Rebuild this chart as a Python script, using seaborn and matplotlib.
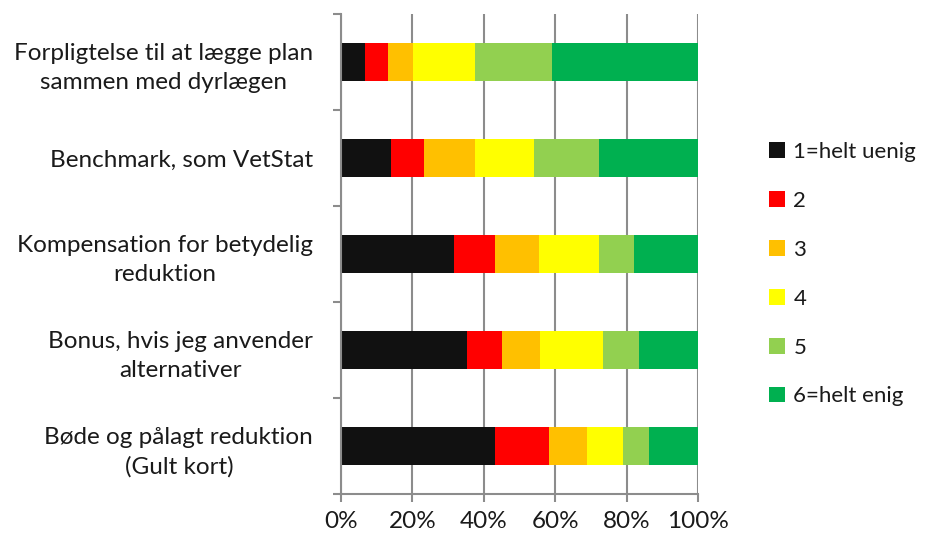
import matplotlib
matplotlib.use("Agg")
import matplotlib.pyplot as plt
from matplotlib.patches import Patch
from matplotlib.ticker import FixedLocator, PercentFormatter
import seaborn as sns
import pandas as pd
import numpy as np

# Survey statements (top to bottom) and share of answers per level, in percent
statements = [
    "Forpligtelse til at lægge plan\nsammen med dyrlægen",
    "Benchmark, som VetStat",
    "Kompensation for betydelig\nreduktion",
    "Bonus, hvis jeg anvender\nalternativer",
    "Bøde og pålagt reduktion\n(Gult kort)",
]
levels = ["1=helt uenig", "2", "3", "4", "5", "6=helt enig"]
level_1 = [6.6, 14.0, 31.7, 35.2, 43.2]
level_2 = [6.7, 9.3, 11.5, 9.9, 15.2]
level_3 = [6.8, 14.3, 12.4, 10.7, 10.4]
level_4 = [17.5, 16.4, 16.8, 17.6, 10.1]
level_5 = [21.5, 18.2, 9.6, 10.0, 7.3]
level_6 = [40.9, 27.8, 18.0, 16.6, 13.8]
colors = ["#111111", "#FF0000", "#FFC000", "#FFFF00", "#92D050", "#00B050"]

sns.set_theme(style="white")
plt.rcParams["font.family"] = ["Lato", "DejaVu Sans"]
FS = 17.5
LEG_FS = 16

df = pd.DataFrame(
    {"statement": statements,
     **{lvl: vals for lvl, vals in zip(levels, [level_1, level_2, level_3, level_4, level_5, level_6])}}
)
cum = df[levels].cumsum(axis=1)

fig = plt.figure(figsize=(9.27, 5.38), dpi=100)
ax = fig.add_axes([341 / 927, 44 / 538, 357 / 927, 480 / 538])

# stacked bars: draw cumulative totals from the widest down
for lvl, col in reversed(list(zip(levels, colors))):
    sns.barplot(x=cum[lvl], y=df["statement"], orient="h", color=col,
                saturation=1, width=0.4, linewidth=0, ax=ax)

ax.set_xlim(0, 100)
ax.set_ylim(4.5, -0.5)
ax.set_xlabel("")
ax.set_ylabel("")
ax.xaxis.set_major_locator(FixedLocator([0, 20, 40, 60, 80, 100]))
ax.xaxis.set_major_formatter(PercentFormatter(decimals=0))
ax.grid(axis="x", color="#8C8C8C", linewidth=1.5)
ax.set_axisbelow(True)

for side in ("top", "right"):
    ax.spines[side].set_visible(False)
for side in ("left", "bottom"):
    ax.spines[side].set_color("#8C8C8C")
    ax.spines[side].set_linewidth(1.5)

ax.tick_params(axis="x", which="major", direction="out", length=6, width=1.5,
               color="#8C8C8C", labelsize=FS, labelcolor="#1A1A1A", pad=6, bottom=True)
ax.tick_params(axis="y", which="major", length=0, labelsize=FS, labelcolor="#1A1A1A", pad=20)
ax.yaxis.set_minor_locator(FixedLocator(np.arange(-0.5, 5, 1.0)))
ax.tick_params(axis="y", which="minor", direction="out", length=6, width=1.5,
               color="#8C8C8C", left=True)
for lab in ax.get_yticklabels():
    lab.set_horizontalalignment("right")
    lab.set_multialignment("center")
    lab.set_linespacing(1.45)

handles = [Patch(facecolor=c, edgecolor="none") for c in colors]
fig.legend(handles, levels, loc="upper left", bbox_to_anchor=(769 / 927, 1 - 142 / 538),
           frameon=False, fontsize=LEG_FS, handlelength=0.7, handleheight=0.7,
           handletextpad=0.4, labelspacing=1.3, borderpad=0, borderaxespad=0,
           labelcolor="#1A1A1A")

fig.savefig("out.png", dpi=100)
